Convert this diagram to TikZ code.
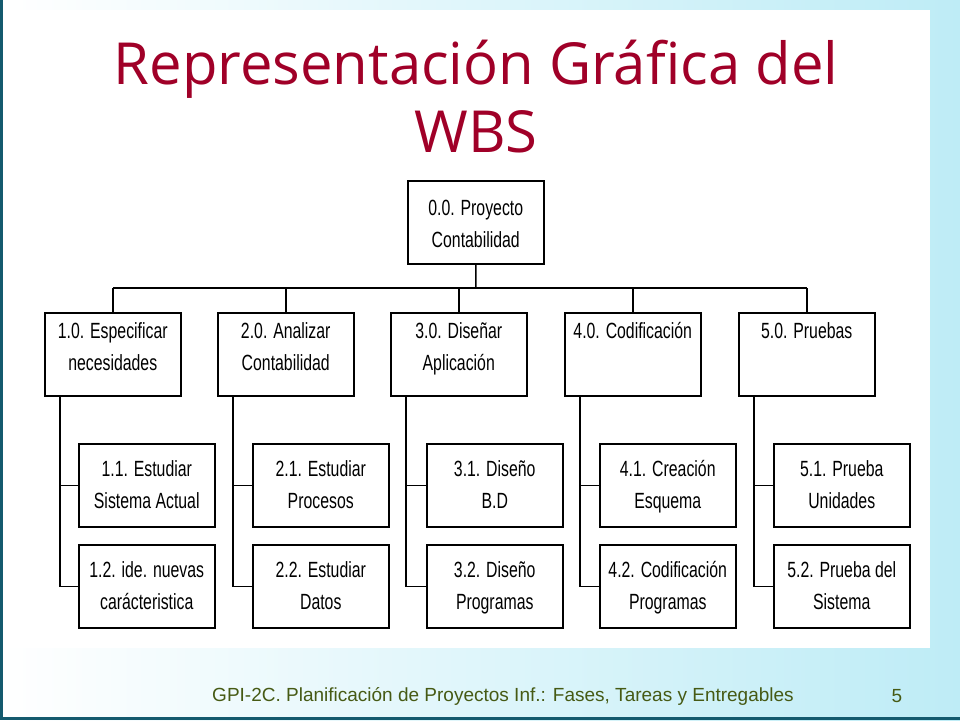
\documentclass[tikz,border=0pt]{standalone}
\usepackage{fontspec}
\setmainfont{Liberation Sans}
\newfontfamily\narrowf[FakeStretch=0.72]{Liberation Sans}
\newfontfamily\titlef{Open Sans}
\usetikzlibrary{positioning}
\definecolor{titlered}{RGB}{160,0,40}
\definecolor{footgreen}{RGB}{70,90,20}
\definecolor{bgcyan}{RGB}{190,236,246}
\definecolor{edge}{RGB}{20,90,110}
\begin{document}
\begin{tikzpicture}[x=1pt,y=-1pt,
  wbox/.style={draw,line width=1.5pt,minimum width=136pt,minimum height=83pt,anchor=north west,inner sep=0pt},
  wtxt/.style={font=\narrowf\fontsize{22}{32}\selectfont,align=center},
  conn/.style={line width=1.5pt}]
\useasboundingbox (0,0) rectangle (960,720);
\shade[left color=white,right color=bgcyan] (0,0) rectangle (960,720);
\fill[white] (8,10) rectangle (930,648);
\draw[edge,line width=3pt] (1,0) -- (1,718.5) -- (960,718.5);
\node[font=\titlef\fontsize{58}{68}\selectfont,text=titlered,align=center] (title) at (476,97) {Representación Gráfica del\\WBS};
\node[wbox] (p0) at (407,180) {};
\node[wtxt] at ([yshift=-2pt]p0.center) {0.0. Proyecto\\Contabilidad};
\foreach \i/\x/\ta/\tb in {1/44/1.0. Especificar/necesidades,2/217/2.0. Analizar/Contabilidad,3/390/3.0. Diseñar/Aplicación,4/564/4.0. Codificación/{\strut},5/738/5.0. Pruebas/{\strut}}{
  \node[wbox] (l\i) at (\x,312) {};
  \node[wtxt,anchor=north] at ([yshift=-7pt]l\i.north) {\ta\\\tb};
  \coordinate (t\i) at ([xshift=16pt]l\i.south west);
}
\foreach \i/\x/\ta/\tb/\tc/\td in {1/78/1.1. Estudiar/Sistema Actual/1.2. ide. nuevas/carácteristica,2/252/2.1. Estudiar/Procesos/2.2. Estudiar/Datos,3/426/3.1. Diseño/B.D/3.2. Diseño/Programas,4/599/4.1. Creación/Esquema/4.2. Codificación/Programas,5/773/5.1. Prueba/Unidades/5.2. Prueba del/Sistema}{
  \node[wbox] (a\i) at (\x,443) {};
  \node[wtxt] at ([yshift=-1pt]a\i.center) {\ta\strut\\\tb\strut};
  \node[wbox] (b\i) at (\x,544) {};
  \node[wtxt] at ([yshift=-1pt]b\i.center) {\tc\strut\\\td\strut};
  \draw[conn] (t\i) |- (a\i.west);
  \draw[conn] (t\i) |- (b\i.west);
}
\coordinate (bus) at (476,288);
\draw[conn] (p0.south) -- (bus);
\draw[conn] (l1.north |- bus) -- (l5.north |- bus);
\foreach \i in {1,...,5} \draw[conn] (l\i.north |- bus) -- (l\i.north);
\node[font=\fontsize{19}{22}\selectfont,text=footgreen] (foot) at (503,696) {GPI-2C. Planificación de Proyectos Inf.: Fases, Tareas y Entregables};
\node[font=\fontsize{19}{22}\selectfont,text=footgreen] (pg) at (897,696) {5};
\end{tikzpicture}
\end{document}
